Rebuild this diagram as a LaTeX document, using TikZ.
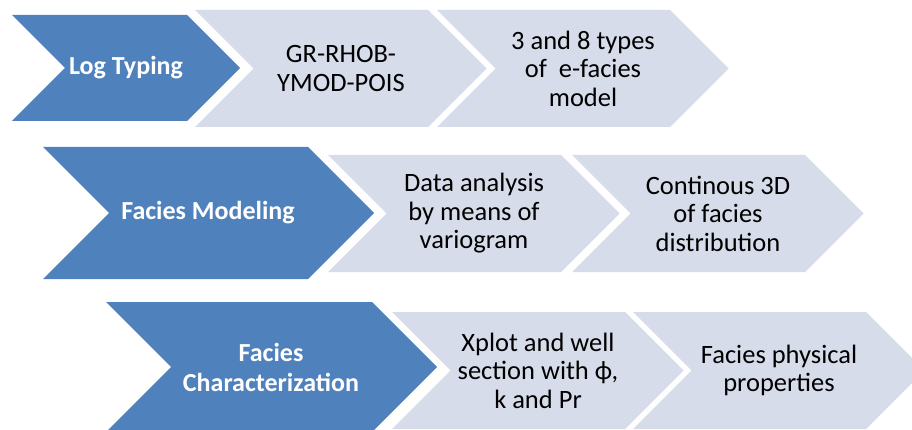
\documentclass[tikz,border=0pt]{standalone}
\usepackage{fontspec}
\setmainfont{Carlito}
\usepackage{tikz}

% chevron: left x, top y, body width, height, style
\newcommand{\chevron}[5]{%
  \fill[#5] (#1,#2) -- ++(#3,0) -- ++(#4/2,#4/2) -- ++(-#4/2,#4/2)
    -- ++(-#3,0) -- ++(#4/2,-#4/2) -- cycle;}

\definecolor{stepblue}{RGB}{79,129,189}
\definecolor{steplight}{RGB}{214,220,233}

\tikzset{
  darkarrow/.style={fill=stepblue},
  lightarrow/.style={fill=steplight},
  darktext/.style={text=white, font=\fontsize{26}{30}\selectfont\bfseries, align=center, inner sep=0pt},
  lighttext/.style={text=black, font=\fontsize{26.5}{28.5}\selectfont, align=center, inner sep=0pt}
}

\begin{document}
\begin{tikzpicture}[x=1pt, y=-1pt]
        \useasboundingbox (0,0) rectangle (912,430);
        \fill[white] (0,0) rectangle (912,430);

        % First row: log typing
        \chevron{12}{15}{175}{106}{darkarrow}
        \chevron{195}{10}{233}{117}{lightarrow}
        \chevron{437}{10}{233}{117}{lightarrow}
        \node[darktext] (logtyping) at (126,68) {Log Typing};
        \node[lighttext] (logcurves) at (341,68.5) {GR-RHOB-\\YMOD-POIS};
        \node[lighttext] (efacies) at (583,68.5) {3 and 8 types\\of~ e-facies\\model};

        % Second row: facies modeling
        \chevron{43}{147}{265}{132}{darkarrow}
        \chevron{328}{155}{233}{117}{lightarrow}
        \chevron{572}{155}{233}{117}{lightarrow}
        \node[darktext] (faciesmodel) at (208,213) {Facies Modeling};
        \node[lighttext] (variogram) at (474,213.5) {Data analysis\\by means of\\variogram};
        \node[lighttext] (distrib) at (718,213.5) {Continous 3D\\of facies\\distribution};

        % Third row: facies characterization
        \chevron{106}{302}{266}{130}{darkarrow}
        \chevron{392}{312}{233}{117}{lightarrow}
        \chevron{633}{312}{233}{117}{lightarrow}
        \node[darktext] (faciescharac) at (271,367) {Facies\\Characterization};
        \node[lighttext] (xplot) at (538,370.5) {Xplot and well\\section with ϕ,\\k and Pr};
        \node[lighttext] (physprop) at (779,370.5) {Facies physical\\properties};

    \end{tikzpicture}
\end{document}
